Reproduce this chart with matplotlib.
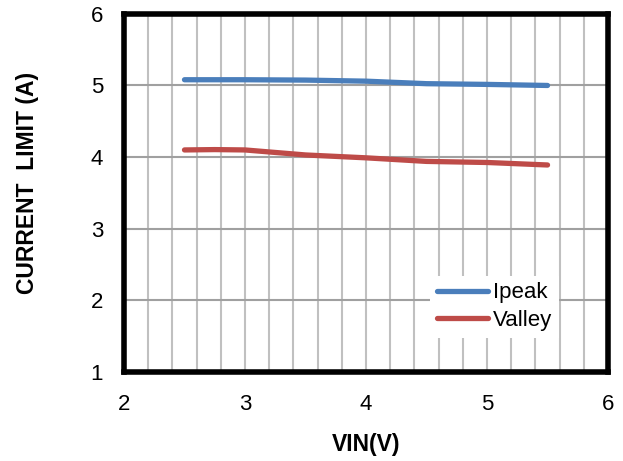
import matplotlib
matplotlib.use("Agg")
import matplotlib.pyplot as plt
from matplotlib.ticker import MultipleLocator

plt.rcParams['font.family'] = ['Liberation Sans', 'DejaVu Sans']

vin_ipeak = [2.5, 3.0, 3.5, 4.0, 4.5, 5.0, 5.5]
ipeak = [5.08, 5.08, 5.075, 5.06, 5.025, 5.015, 5.0]
vin_valley = [2.5, 2.75, 3.0, 3.5, 4.0, 4.5, 5.0, 5.5]
valley = [4.10, 4.105, 4.10, 4.03, 3.99, 3.94, 3.925, 3.89]

fig = plt.figure(figsize=(6.23, 4.61), dpi=100)
ax = fig.add_axes([0.199, 0.193, 0.777, 0.777])

ax.set_xlim(2, 6)
ax.set_ylim(1, 6)
ax.xaxis.set_major_locator(MultipleLocator(1))
ax.xaxis.set_minor_locator(MultipleLocator(0.2))
ax.yaxis.set_major_locator(MultipleLocator(1))

ax.grid(which='minor', axis='x', color='#c0c0c0', linewidth=1.5, zorder=0)
ax.grid(which='major', axis='x', color='#c0c0c0', linewidth=1.5, zorder=0)
ax.grid(which='major', axis='y', color='#a0a0a0', linewidth=1.5, zorder=1)
ax.set_axisbelow(True)

ax.plot(vin_ipeak, ipeak, color='#4a7ebb', linewidth=3.8, solid_capstyle='round', label='Ipeak', zorder=3)
ax.plot(vin_valley, valley, color='#be4b48', linewidth=3.8, solid_capstyle='round', label='Valley', zorder=3)

for s in ax.spines.values():
    s.set_linewidth(4)
    s.set_color('black')

ax.tick_params(which='both', length=0)
ax.tick_params(axis='x', labelsize=16, pad=16)
ax.tick_params(axis='y', labelsize=16, pad=15)

ax.set_xlabel('VIN(V)', fontsize=16.5, fontweight='bold', labelpad=13)
ax.set_ylabel('CURRENT  LIMIT (A)', fontsize=16.5, fontweight='bold')
ax.yaxis.set_label_coords(-0.176, 0.527)

leg = ax.legend(loc='upper left', bbox_to_anchor=(0.61, 0.30), fontsize=16,
                frameon=True, framealpha=1, edgecolor='none', fancybox=False,
                handlelength=2.3, handletextpad=0.2, labelspacing=0.3, borderpad=0.3)

fig.savefig('out.png', dpi=100)
